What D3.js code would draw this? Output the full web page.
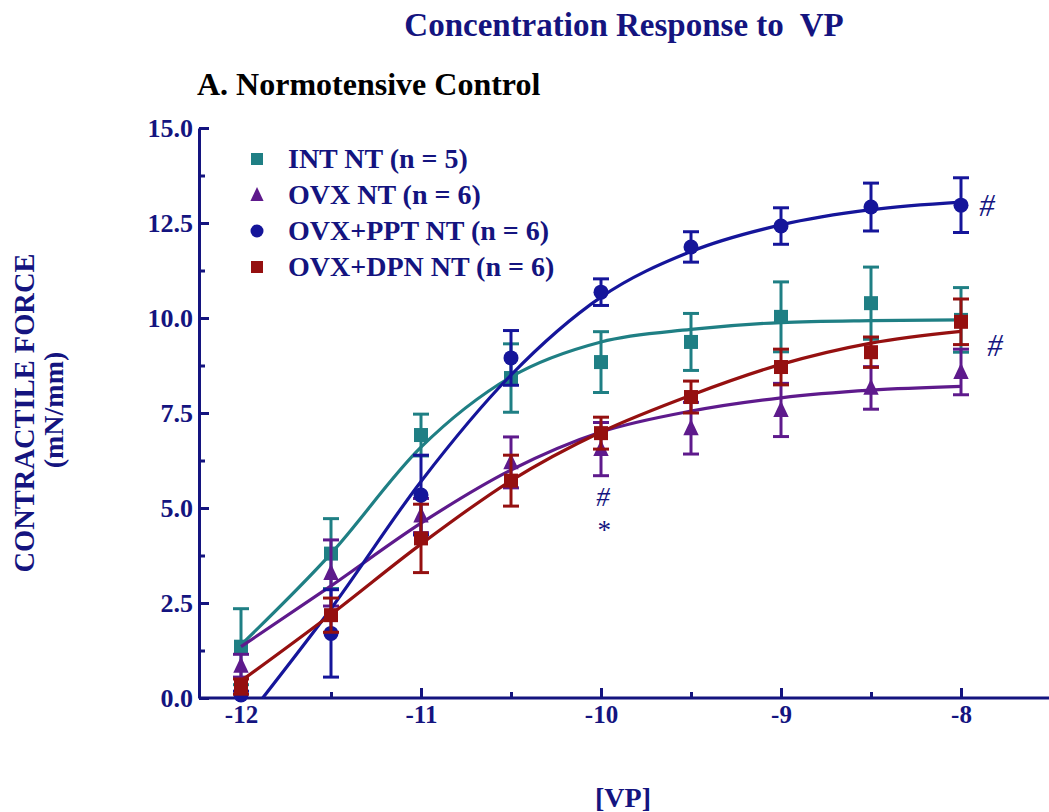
<!DOCTYPE html>
<html>
<head>
<meta charset="utf-8">
<script src="https://cdn.jsdelivr.net/npm/d3@7"></script>
<style>
  html, body { margin: 0; padding: 0; background: #fff; }
  svg { display: block; font-family: "Liberation Serif", "Times New Roman", serif; }
  .navy { fill: #14147f; }
</style>
</head>
<body>
<div id="chart"></div>
<script>
// log [VP] (M)
const doses = [-12, -11.5, -11, -10.5, -10, -9.5, -9, -8.5, -8];

// mean ± SEM (mN/mm)
const intMean = [1.35, 3.8, 6.92, 8.42, 8.84, 9.37, 10.03, 10.39, 9.95];
const intSem  = [1.0, 0.92, 0.55, 0.9, 0.8, 0.75, 0.92, 0.95, 0.85];
const ovxMean = [0.85, 3.29, 4.8, 6.2, 6.55, 7.1, 7.58, 8.16, 8.58];
const ovxSem  = [0.3, 0.87, 0.45, 0.67, 0.7, 0.68, 0.7, 0.56, 0.6];
const pptMean = [0.08, 1.7, 5.34, 8.95, 10.68, 11.87, 12.42, 12.92, 12.97];
const pptSem  = [0.1, 1.15, 1.05, 0.72, 0.35, 0.4, 0.48, 0.63, 0.72];
const dpnMean = [0.3, 2.18, 4.2, 5.72, 6.97, 7.92, 8.71, 9.1, 9.9];
const dpnSem  = [0.2, 0.45, 0.9, 0.67, 0.42, 0.42, 0.47, 0.4, 0.6];

// fitted curves
const intFit = [1.4, 3.8, 6.6, 8.45, 9.37, 9.7, 9.88, 9.93, 9.95];
const ovxFit = [1.35, 2.95, 4.6, 6.0, 7.0, 7.55, 7.9, 8.1, 8.2];
const pptFitX = [-11.88, -11.5, -11, -10.5, -10, -9.5, -9, -8.5, -8];
const pptFit = [0, 2.35, 5.7, 8.5, 10.55, 11.75, 12.45, 12.85, 13.05];
const dpnFit = [0.45, 2.2, 4.05, 5.72, 7.0, 7.97, 8.78, 9.34, 9.65];

const yTicks = [0, 2.5, 5, 7.5, 10, 12.5, 15];
const yMinor = [1.25, 3.75, 6.25, 8.75, 11.25, 13.75];
const xTicks = [-12, -11, -10, -9, -8];
const xMinor = [-11.5, -10.5, -9.5, -8.5];

const series = [
  { name: 'INT NT (n = 5)',      color: '#1f7f84', shape: 'square',   mean: intMean, sem: intSem, fitX: doses,   fit: intFit },
  { name: 'OVX NT (n = 6)',      color: '#5e1a8c', shape: 'triangle', mean: ovxMean, sem: ovxSem, fitX: doses,   fit: ovxFit },
  { name: 'OVX+PPT NT (n = 6)',  color: '#15159a', shape: 'circle',   mean: pptMean, sem: pptSem, fitX: pptFitX, fit: pptFit },
  { name: 'OVX+DPN NT (n = 6)',  color: '#951010', shape: 'square',   mean: dpnMean, sem: dpnSem, fitX: doses,   fit: dpnFit },
];

const W = 1049, H = 812;
const axisColor = '#14147f';
const x = d3.scaleLinear().domain([-12, -8]).range([241, 961]);
const y = d3.scaleLinear().domain([0, 15]).range([698, 128]);
const axisX = 199;

const svg = d3.select('#chart').append('svg')
  .attr('width', W).attr('height', H).attr('viewBox', `0 0 ${W} ${H}`);

// titles
svg.append('text')
  .attr('x', 624).attr('y', 36)
  .attr('text-anchor', 'middle')
  .attr('class', 'navy')
  .style('font-size', '33px').style('font-weight', 'bold')
  .style('white-space', 'pre')
  .text('Concentration Response to  VP');

svg.append('text')
  .attr('x', 197).attr('y', 95)
  .style('font-size', '32px').style('font-weight', 'bold')
  .attr('fill', '#000')
  .text('A. Normotensive Control');

// axes
const gy = svg.append('g').attr('transform', `translate(${axisX},0)`);
gy.call(d3.axisLeft(y).tickValues(yTicks).tickSize(-10).tickSizeOuter(0)
  .tickPadding(6).tickFormat(d3.format('.1f')));
gy.append('g').call(d3.axisLeft(y).tickValues(yMinor).tickSize(-6).tickSizeOuter(0).tickFormat(''))
  .select('.domain').remove();

const gx = svg.append('g').attr('transform', `translate(0,${y(0)})`);
gx.call(d3.axisBottom(x).tickValues(xTicks).tickSize(-10).tickSizeOuter(0).tickPadding(8)
  .tickFormat(d => String(d)));
gx.select('.domain').remove();
gx.append('g').call(d3.axisBottom(x).tickValues(xMinor).tickSize(-6).tickSizeOuter(0).tickFormat(''))
  .select('.domain').remove();
gx.append('line')
  .attr('x1', axisX).attr('x2', W).attr('y1', 0).attr('y2', 0);

svg.selectAll('.domain, .tick line, g line')
  .attr('stroke', axisColor).attr('stroke-width', 3);
svg.selectAll('.tick text')
  .attr('fill', axisColor)
  .style('font-family', '"Liberation Serif", "Times New Roman", serif')
  .style('font-weight', 'bold');
gy.selectAll('.tick text').style('font-size', '26px').attr('dy', '0.34em');
gx.selectAll('.tick text').style('font-size', '25px').attr('dy', '0.68em');

// axis labels
svg.append('text')
  .attr('transform', 'translate(34,413) rotate(-90)')
  .attr('text-anchor', 'middle').attr('class', 'navy')
  .style('font-size', '28.5px').style('font-weight', 'bold')
  .text('CONTRACTILE FORCE');
svg.append('text')
  .attr('transform', 'translate(63,410) rotate(-90)')
  .attr('text-anchor', 'middle').attr('class', 'navy')
  .style('font-size', '28px').style('font-weight', 'bold')
  .text('(mN/mm)');
svg.append('text')
  .attr('x', 623).attr('y', 807)
  .attr('text-anchor', 'middle').attr('class', 'navy')
  .style('font-size', '28px').style('font-weight', 'bold')
  .text('[VP]');

// markers
function drawMarker(g, shape, cx, cy, color, size) {
  if (shape === 'square') {
    g.append('rect').attr('x', cx - size / 2).attr('y', cy - size / 2)
      .attr('width', size).attr('height', size).attr('fill', color);
  } else if (shape === 'circle') {
    g.append('circle').attr('cx', cx).attr('cy', cy).attr('r', size / 2 + 0.5).attr('fill', color);
  } else {
    const s = size * 1.1;
    g.append('path')
      .attr('d', `M${cx},${cy - s * 0.6}L${cx + s / 2},${cy + s * 0.45}L${cx - s / 2},${cy + s * 0.45}Z`)
      .attr('fill', color);
  }
}

const plot = svg.append('g');
const line = d3.line().x(d => x(d[0])).y(d => y(d[1])).curve(d3.curveMonotoneX);
const capW = 8;

series.forEach(s => {
  const g = plot.append('g');
  // error bars
  s.mean.forEach((m, i) => {
    const cx = x(doses[i]);
    const lo = Math.max(0, m - s.sem[i]), hi = m + s.sem[i];
    g.append('line').attr('x1', cx).attr('x2', cx).attr('y1', y(lo)).attr('y2', y(hi))
      .attr('stroke', s.color).attr('stroke-width', 3);
    [lo, hi].forEach(v => {
      if (v <= 0) return;
      g.append('line').attr('x1', cx - capW).attr('x2', cx + capW).attr('y1', y(v)).attr('y2', y(v))
        .attr('stroke', s.color).attr('stroke-width', 3);
    });
  });
  // fitted curve
  g.append('path')
    .datum(s.fitX.map((d, i) => [d, s.fit[i]]))
    .attr('d', line)
    .attr('fill', 'none').attr('stroke', s.color).attr('stroke-width', 3.2);
  // points
  s.mean.forEach((m, i) => drawMarker(g, s.shape, x(doses[i]), y(m), s.color, 14));
});

// legend
const legend = svg.append('g');
series.forEach((s, i) => {
  const ly = 159 + i * 36;
  drawMarker(legend, s.shape, 257, ly, s.color, 12);
  legend.append('text')
    .attr('x', 288).attr('y', ly + 9)
    .attr('class', 'navy')
    .style('font-size', '28px').style('font-weight', 'bold')
    .text(s.name);
});

// significance marks
const marks = [
  { dose: -8, val: 12.97, dx: 26, dy: 11, size: 31, text: '#' },
  { dose: -8, val: 9.3, dx: 34, dy: 11, size: 31, text: '#' },
  { dose: -10, val: 5.3, dx: 2, dy: 9, size: 27, text: '#' },
  { dose: -10, val: 4.6, dx: 2, dy: 16, size: 27, text: '*' },
];
marks.forEach(mk => {
  svg.append('text')
    .attr('x', x(mk.dose) + mk.dx).attr('y', y(mk.val) + mk.dy)
    .attr('text-anchor', 'middle').attr('class', 'navy')
    .style('font-size', mk.size + 'px').style('font-style', 'italic')
    .text(mk.text);
});
</script>
</body>
</html>
